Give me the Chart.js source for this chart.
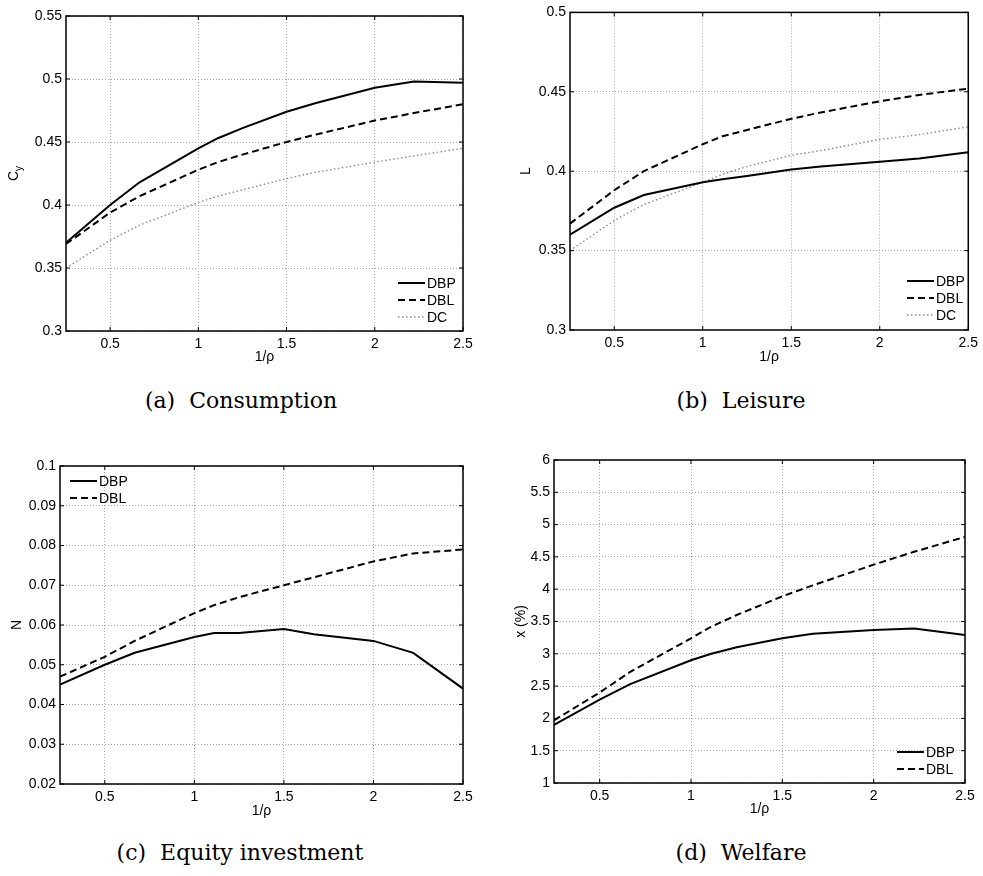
<!DOCTYPE html>
<html>
<head>
<meta charset="utf-8">
<title>DBP / DBL / DC</title>
<script src="https://cdn.jsdelivr.net/npm/chart.js@4.4.0/dist/chart.umd.min.js"></script>
<style>
  html, body { margin: 0; padding: 0; background: #fff; }
  #page { position: relative; width: 983px; height: 876px; overflow: hidden; }
  #page canvas { position: absolute; }
  .caption {
    position: absolute; width: 400px; text-align: center; white-space: pre;
    font-family: "DejaVu Serif", "Liberation Serif", serif; font-size: 22px; line-height: 22px; color: #000;
  }
</style>
</head>
<body>
<div id="page">
  <canvas id="chart-a" width="490" height="380" style="left:0px; top:0px;"></canvas>
  <canvas id="chart-b" width="493" height="380" style="left:490px; top:0px;"></canvas>
  <canvas id="chart-c" width="490" height="400" style="left:0px; top:420px;"></canvas>
  <canvas id="chart-d" width="493" height="400" style="left:490px; top:420px;"></canvas>

  <div class="caption" style="left:41px; top:390px;">(a)  Consumption</div>
  <div class="caption" style="left:541px; top:390px;">(b)  Leisure</div>
  <div class="caption" style="left:40px; top:842px;">(c)  Equity investment</div>
  <div class="caption" style="left:541px; top:842px;">(d)  Welfare</div>
</div>

<script>
// --- DATA ---
// x = 1/rho (same grid for all panels)
const X_VALUES = [0.25, 0.5, 0.667, 1, 1.111, 1.25, 1.5, 1.667, 2, 2.222, 2.5];
const X_TICKS = [0.5, 1, 1.5, 2, 2.5];

// (a) Consumption
const CONS_DBP = [0.370, 0.400, 0.418, 0.445, 0.453, 0.461, 0.474, 0.481, 0.493, 0.498, 0.497];
const CONS_DBL = [0.369, 0.394, 0.407, 0.428, 0.434, 0.440, 0.450, 0.456, 0.467, 0.473, 0.480];
const CONS_DC  = [0.350, 0.372, 0.384, 0.402, 0.407, 0.412, 0.421, 0.426, 0.434, 0.439, 0.445];
const CONS_Y_TICKS = [0.3, 0.35, 0.4, 0.45, 0.5, 0.55];

// (b) Leisure
const LEIS_DBP = [0.360, 0.377, 0.385, 0.393, 0.395, 0.397, 0.401, 0.403, 0.406, 0.408, 0.412];
const LEIS_DBL = [0.367, 0.388, 0.400, 0.417, 0.422, 0.426, 0.433, 0.437, 0.444, 0.448, 0.452];
const LEIS_DC  = [0.350, 0.369, 0.379, 0.393, 0.398, 0.403, 0.410, 0.413, 0.420, 0.423, 0.428];
const LEIS_Y_TICKS = [0.3, 0.35, 0.4, 0.45, 0.5];

// (c) Equity investment
const EQ_DBP = [0.045, 0.050, 0.053, 0.057, 0.058, 0.058, 0.059, 0.0577, 0.056, 0.053, 0.044];
const EQ_DBL = [0.047, 0.052, 0.056, 0.063, 0.065, 0.067, 0.070, 0.072, 0.076, 0.078, 0.079];
const EQ_Y_TICKS = [0.02, 0.03, 0.04, 0.05, 0.06, 0.07, 0.08, 0.09, 0.1];

// (d) Welfare
const WELF_DBP = [1.90, 2.29, 2.53, 2.90, 3.00, 3.10, 3.24, 3.31, 3.37, 3.39, 3.29];
const WELF_DBL = [1.97, 2.40, 2.72, 3.24, 3.42, 3.60, 3.89, 4.06, 4.38, 4.58, 4.81];
const WELF_Y_TICKS = [1, 1.5, 2, 2.5, 3, 3.5, 4, 4.5, 5, 5.5, 6];

// --- STYLES ---
const FONT_FAMILY = '"Liberation Sans", Arial, Helvetica, sans-serif';
const TICK_FONT = { family: FONT_FAMILY, size: 14 };
const GRID_COLOR = '#a8a8a8';
const TICK_LEN = 4;

const LINE_STYLES = {
    'DBP': { borderColor: '#000', borderWidth: 2, borderDash: [] },
    'DBL': { borderColor: '#000', borderWidth: 2, borderDash: [7, 4] },
    'DC':  { borderColor: '#8a8a8a', borderWidth: 1.4, borderDash: [1.5, 2.5] }
};

Chart.defaults.font.family = FONT_FAMILY;
Chart.defaults.color = '#000';

// --- PLUGIN: box, inner ticks, legend inside the axes, subscripted y label ---
const matlabBox = {
    id: 'matlabBox',
    afterDraw(chart, args, opts) {
        const { ctx, chartArea: a, scales } = chart;
        ctx.save();

        // box round the axes
        ctx.setLineDash([]);
        ctx.strokeStyle = '#000';
        ctx.lineWidth = 1.5;
        ctx.strokeRect(a.left, a.top, a.right - a.left, a.bottom - a.top);

        // small ticks pointing inwards on all four sides
        ctx.lineWidth = 1;
        ctx.beginPath();
        scales.x.ticks.forEach(t => {
            const px = scales.x.getPixelForValue(t.value);
            ctx.moveTo(px, a.bottom); ctx.lineTo(px, a.bottom - TICK_LEN);
            ctx.moveTo(px, a.top); ctx.lineTo(px, a.top + TICK_LEN);
        });
        scales.y.ticks.forEach(t => {
            const py = scales.y.getPixelForValue(t.value);
            ctx.moveTo(a.left, py); ctx.lineTo(a.left + TICK_LEN, py);
            ctx.moveTo(a.right, py); ctx.lineTo(a.right - TICK_LEN, py);
        });
        ctx.stroke();

        // legend
        if (opts.legend) {
            const lg = opts.legend;
            ctx.font = '14px ' + FONT_FAMILY;
            ctx.textBaseline = 'middle';
            ctx.textAlign = 'left';
            chart.data.datasets.forEach((ds, i) => {
                const y = lg.y + i * 17;
                ctx.strokeStyle = ds.borderColor;
                ctx.lineWidth = ds.borderWidth;
                ctx.setLineDash(ds.borderDash || []);
                ctx.beginPath();
                ctx.moveTo(lg.x, y);
                ctx.lineTo(lg.x + 27, y);
                ctx.stroke();
                ctx.setLineDash([]);
                ctx.fillStyle = '#000';
                ctx.fillText(ds.label, lg.x + 29, y + 1);
            });
        }

        // y label with a subscript (C_y)
        if (opts.ySub) {
            const cy = (a.top + a.bottom) / 2;
            ctx.translate(opts.ySub.x, cy);
            ctx.rotate(-Math.PI / 2);
            ctx.fillStyle = '#000';
            ctx.textBaseline = 'middle';
            ctx.textAlign = 'left';
            ctx.font = '14px ' + FONT_FAMILY;
            const wMain = ctx.measureText(opts.ySub.main).width;
            ctx.font = '10px ' + FONT_FAMILY;
            const wSub = ctx.measureText(opts.ySub.sub).width;
            const x0 = -(wMain + wSub) / 2;
            ctx.font = '14px ' + FONT_FAMILY;
            ctx.fillText(opts.ySub.main, x0, 0);
            ctx.font = '10px ' + FONT_FAMILY;
            ctx.fillText(opts.ySub.sub, x0 + wMain, 5);
        }

        ctx.restore();
    }
};

// --- CHART BUILDER ---
function buildChart(id, cfg) {
    const ctx = document.getElementById(id);

    const datasets = cfg.series.map(s => Object.assign({
        label: s.label,
        data: X_VALUES.map((x, i) => ({ x: x, y: s.values[i] })),
        pointRadius: 0,
        fill: false,
        tension: 0
    }, LINE_STYLES[s.label]));

    return new Chart(ctx, {
        type: 'line',
        data: { datasets: datasets },
        options: {
            responsive: false,
            animation: false,
            events: [],
            layout: { padding: cfg.padding },
            plugins: {
                legend: { display: false },
                tooltip: { enabled: false },
                matlabBox: { legend: cfg.legend, ySub: cfg.ySub }
            },
            scales: {
                x: {
                    type: 'linear',
                    min: 0.25,
                    max: 2.5,
                    afterBuildTicks: s => { s.ticks = X_TICKS.map(v => ({ value: v })); },
                    afterFit: s => { s.height = cfg.xHeight; },
                    grid: { color: GRID_COLOR, lineWidth: 1, drawTicks: false },
                    border: { display: false, dash: [1, 2] },
                    ticks: { color: '#000', font: TICK_FONT, padding: 5, maxRotation: 0, autoSkip: false, callback: v => String(v) },
                    title: { display: true, text: '1/ρ', color: '#000', font: TICK_FONT, padding: 0 }
                },
                y: {
                    type: 'linear',
                    min: cfg.yTicks[0],
                    max: cfg.yTicks[cfg.yTicks.length - 1],
                    afterBuildTicks: s => { s.ticks = cfg.yTicks.map(v => ({ value: v })); },
                    afterFit: s => { s.width = cfg.yWidth; },
                    grid: { color: GRID_COLOR, lineWidth: 1, drawTicks: false },
                    border: { display: false, dash: [1, 2] },
                    ticks: { color: '#000', font: TICK_FONT, padding: 4, autoSkip: false, callback: v => String(v) },
                    title: { display: !!cfg.yTitle, text: cfg.yTitle || '', color: '#000', font: TICK_FONT, padding: 0 }
                }
            }
        },
        plugins: [matlabBox]
    });
}

// --- 4 PANELS ---
buildChart('chart-a', {
    series: [
        { label: 'DBP', values: CONS_DBP },
        { label: 'DBL', values: CONS_DBL },
        { label: 'DC', values: CONS_DC }
    ],
    yTicks: CONS_Y_TICKS,
    ySub: { main: 'C', sub: 'y', x: 14 },
    padding: { left: 0, top: 16, right: 27, bottom: 14 },
    yWidth: 66,
    xHeight: 35,
    legend: { x: 398, y: 283 }
});

buildChart('chart-b', {
    series: [
        { label: 'DBP', values: LEIS_DBP },
        { label: 'DBL', values: LEIS_DBL },
        { label: 'DC', values: LEIS_DC }
    ],
    yTicks: LEIS_Y_TICKS,
    yTitle: 'L',
    padding: { left: 28, top: 12, right: 10, bottom: 14 },
    yWidth: 52,
    xHeight: 36,
    legend: { x: 417, y: 281 }
});

buildChart('chart-c', {
    series: [
        { label: 'DBP', values: EQ_DBP },
        { label: 'DBL', values: EQ_DBL }
    ],
    yTicks: EQ_Y_TICKS,
    yTitle: 'N',
    padding: { left: 9, top: 46, right: 27, bottom: 0 },
    yWidth: 51,
    xHeight: 36,
    legend: { x: 70, y: 61 }
});

buildChart('chart-d', {
    series: [
        { label: 'DBP', values: WELF_DBP },
        { label: 'DBL', values: WELF_DBL }
    ],
    yTicks: WELF_Y_TICKS,
    yTitle: 'x (%)',
    padding: { left: 23, top: 40, right: 18, bottom: 2 },
    yWidth: 41,
    xHeight: 35,
    legend: { x: 407, y: 332 }
});
</script>
</body>
</html>
